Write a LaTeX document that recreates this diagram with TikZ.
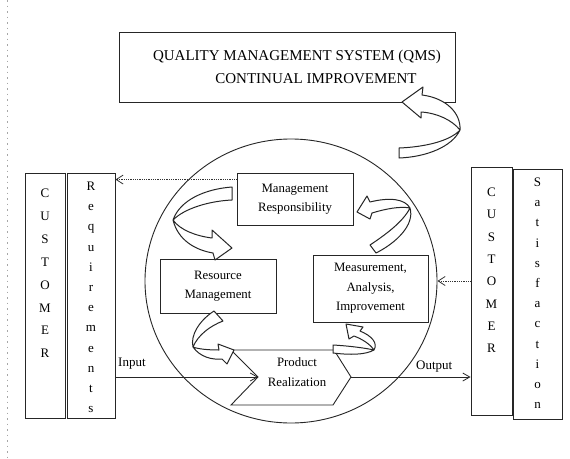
\documentclass[tikz,border=0pt]{standalone}
\usepackage{fontspec}
\setmainfont{Liberation Serif}
\usetikzlibrary{arrows.meta,calc,shapes.geometric}
\begin{document}
\begin{tikzpicture}[x=1pt,y=-1pt,
  ink/.style={draw=black!85, line width=0.9pt},
  box/.style={ink, rectangle, inner sep=0pt, align=center,
              font=\fontsize{12.8}{19.5}\selectfont},
  letter/.style={font=\fontsize{13}{15}\selectfont, inner sep=0pt, anchor=base},
  ribbon/.style={ink, fill=white, line join=round, line width=1pt},
  flow/.style={draw=black!85, line width=0.8pt, -{Straight Barb[length=7pt,width=8pt]}},
  hint/.style={draw=black!80, line width=0.8pt, densely dotted,
               -{Straight Barb[length=7pt,width=9pt]}},
  lbl/.style={font=\fontsize{13}{15}\selectfont, inner sep=0pt, anchor=base west}
]
\useasboundingbox (0,0) rectangle (570,458);
\fill[white] (0,0) rectangle (570,458);

% faint scanner edge on the left
\draw[black!35, line width=0.6pt, dash pattern=on 1.5pt off 4pt] (7,0) -- (7,458);

% title box
\node[box, minimum width=336pt, minimum height=70pt] (qms) at (287,67) {};
\node[align=center, inner sep=0pt, font=\fontsize{15}{23}\selectfont] (qmstext) at (297,67)
  {QUALITY MANAGEMENT SYSTEM (QMS)\\\hspace*{38pt}CONTINUAL IMPROVEMENT};

% process loop
\node[ink, ellipse, minimum width=292pt, minimum height=284pt, inner sep=0pt] (loop) at (291,281) {};

% process boxes
\node[box, minimum width=116pt, minimum height=52pt] (mgmt) at (295,199) {Management\\Responsibility};
\node[box, minimum width=116pt, minimum height=54pt] (res)  at (218,286) {Resource\\Management};
\node[box, minimum width=115pt, minimum height=67pt] (meas) at (370.5,288.5) {Measurement,\\Analysis,\\Improvement};

% product realization chevron
\coordinate (pTL) at (231,350);
\coordinate (pTR) at (334,350);
\coordinate (pE)  at (351,377);
\coordinate (pBR) at (333,405);
\coordinate (pBL) at (231,405);
\coordinate (pW)  at (258,377);
\draw[ink, line join=miter] (pTL) -- (pTR) -- (pE) -- (pBR) -- (pBL) -- (pW) -- cycle;
\node[align=center, inner sep=0pt, font=\fontsize{12.8}{19.5}\selectfont] (prod) at (297,372) {Product\\Realization};

% customer columns
\node[ink, minimum width=40pt, minimum height=245pt, inner sep=0pt] (custL) at (45,295.5) {};
\node[ink, minimum width=48pt, minimum height=245pt, inner sep=0pt] (reqs)  at (91,295.5) {};
\node[ink, minimum width=41pt, minimum height=248pt, inner sep=0pt] (custR) at (491.5,291) {};
\node[ink, minimum width=49pt, minimum height=250pt, inner sep=0pt] (satis) at (537.5,294) {};

\foreach \c [count=\i] in {C,U,S,T,O,M,E,R}
  \node[letter] (cl\i) at (45,{193+22.9*(\i-1)+4.5}) {\c};
\foreach \c [count=\i] in {R,e,q,u,i,r,e,m,e,n,t,s}
  \node[letter] (rq\i) at (91,{187+20.2*(\i-1)+3.5}) {\c};
\foreach \c [count=\i] in {C,U,S,T,O,M,E,R}
  \node[letter] (cr\i) at (491.5,{192+22.3*(\i-1)+4.5}) {\c};
\foreach \c [count=\i] in {S,a,t,i,s,f,a,c,t,i,o,n}
  \node[letter] (sf\i) at (537.5,{183+20.2*(\i-1)+3.5}) {\c};

% input / output flow
\draw[flow] (reqs.east |- pW) -- (pW);
\draw[flow] (pE) -- (custR.west |- pE);
\node[lbl] (inlbl)  at (118,366) {Input};
\node[lbl] (outlbl) at (416,369) {Output};

% information flow
\coordinate (mgmtTap) at ($(mgmt.north west)+(0,7)$);
\draw[hint] (mgmtTap) -- (reqs.east |- mgmtTap);
\draw[hint] (custR.west |- loop.east) -- (loop.east);

% curved ribbon arrows
% loop -> continual improvement
\draw[ribbon] (399,148) .. controls (425,147) and (450,141) .. (460,130)
  .. controls (461,113) and (446,98) .. (422,95)
  -- (423,87) -- (402,102) -- (421,118) -- (421,112)
  .. controls (437,113) and (452,120) .. (460,130)
  .. controls (452,147) and (426,157) .. (399,158) -- cycle;
% management -> resources
\draw[ribbon] (232,187) .. controls (205,189) and (180,200) .. (173,220)
  .. controls (178,240) and (195,250) .. (213,253)
  -- (215,260) -- (232,248) -- (212,230) -- (212,238)
  .. controls (196,236) and (180,230) .. (173,220)
  .. controls (185,208) and (210,201) .. (232,200) -- cycle;
% measurement -> management
\draw[ribbon] (376,253) .. controls (396,243) and (415,225) .. (410,208)
  .. controls (400,206) and (385,209) .. (372,213)
  -- (370,219) -- (357,212) -- (367,196) -- (370,202)
  .. controls (390,197) and (405,199) .. (410,208)
  .. controls (403,222) and (385,235) .. (370,245) -- cycle;
% resources -> product realization
\draw[ribbon] (214,311) .. controls (200,320) and (190,335) .. (193,347)
  .. controls (200,357) and (212,360) .. (222,359)
  -- (227,364) -- (234,350) -- (218,344) -- (219,350)
  .. controls (208,350) and (198,349) .. (193,347)
  .. controls (198,335) and (210,326) .. (223,321) -- cycle;
% product realization -> measurement
\draw[ribbon] (333,345) .. controls (350,346) and (365,348) .. (374,350)
  .. controls (370,344) and (362,339) .. (354,336)
  -- (349,339) -- (346,324) -- (363,327) -- (360,331)
  .. controls (372,336) and (378,343) .. (374,350)
  .. controls (365,355) and (350,355) .. (333,353) -- cycle;
\end{tikzpicture}
\end{document}
